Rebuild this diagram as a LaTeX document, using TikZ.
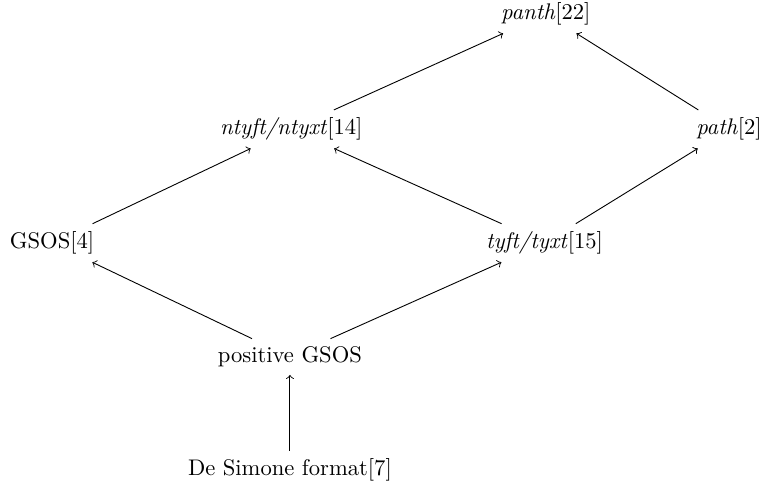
\documentclass[tikz,border=0pt]{standalone}
\usetikzlibrary{positioning, arrows}

\begin{document}
\begin{tikzpicture}[>=to]
			\useasboundingbox (0,0) rectangle (11.9,-7.57);
			\node (ds) at (4.51,-7.31) {De Simone format[7]};
			\node (pos) at (4.51,-5.55) {positive GSOS};
			\node (gsos) at (0.81,-3.78) {GSOS[4]};
			\node (tyft) at (8.47,-3.78) {\textit{tyft/tyxt}[15]};
			\node (ntyft) at (4.53,-2.01) {\textit{ntyft/ntyxt}[14]};
			\node (path) at (11.34,-2.01) {\textit{path}[2]};
			\node (panth) at (8.49,-0.22) {\textit{panth}[22]};

			\draw[->] (ds) edge (pos)
			(pos) edge (gsos)
			(pos) edge (tyft)
			(gsos) edge (ntyft)
			(tyft) edge (ntyft)
			(tyft) edge (path)
			(ntyft) edge (panth)
			(path) edge (panth);
		\end{tikzpicture}
\end{document}
